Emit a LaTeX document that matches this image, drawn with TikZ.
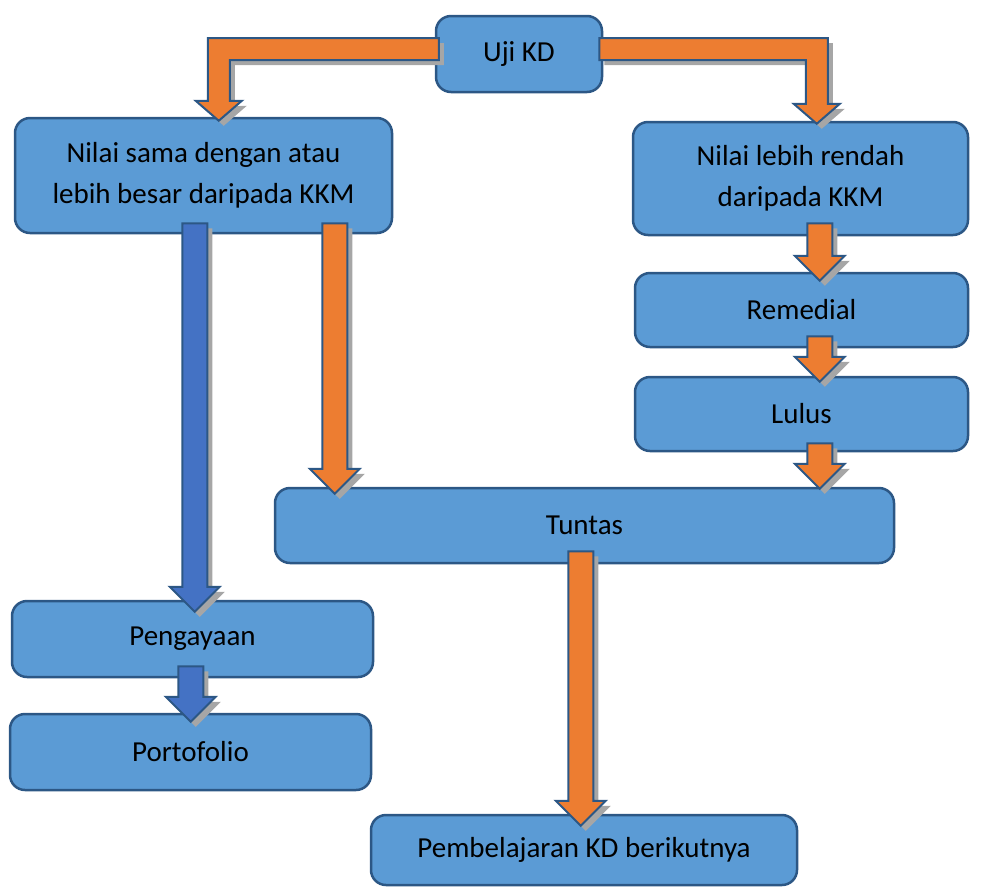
\documentclass[tikz,border=0pt]{standalone}
\usepackage{fontspec}
\setmainfont{Carlito}
\usetikzlibrary{calc}

\definecolor{boxblue}{HTML}{5B9BD5}
\definecolor{boxedge}{HTML}{2C5785}
\definecolor{arroworange}{HTML}{ED7D31}
\definecolor{arrowblue}{HTML}{4472C4}
\definecolor{shadowgray}{HTML}{A6A6A6}

\tikzset{
  box/.style={draw=boxedge, fill=boxblue, line width=2.5pt, rounded corners=15pt,
    align=center, inner sep=0pt, font=\fontsize{29}{41}\selectfont},
  blockdown/.style={to path={let \p1=(\tikztostart), \p2=(\tikztotarget) in
    ({\x1-12.5pt},\y1) -- ({\x1-12.5pt},{\y2+25pt}) -- ({\x1-25pt},{\y2+25pt}) -- (\x1,\y2)
    -- ({\x1+25pt},{\y2+25pt}) -- ({\x1+12.5pt},{\y2+25pt}) -- ({\x1+12.5pt},\y1) -- cycle}},
  blockturn/.style={to path={let \p1=(\tikztostart), \p2=(\tikztotarget) in
    (\x1,{\y1+11pt}) -- ({\x2-(#1)},{\y1+11pt}) -- ({\x2-(#1)},{\y2+20pt})
    -- ({\x2-2.1*(#1)},{\y2+20pt}) -- (\x2,\y2) -- ({\x2+2.1*(#1)},{\y2+20pt})
    -- ({\x2+(#1)},{\y2+20pt}) -- ({\x2+(#1)},{\y1-11pt}) -- (\x1,{\y1-11pt}) -- cycle}}
}

% block arrow with its shadow: #1 shape style, #2 fill, #3 from, #4 to
\newcommand\blockflow[4]{%
  \path[#1, fill=shadowgray, transform canvas={shift={(5pt,-5pt)}}] #3 to #4;
  \draw[#1, fill=#2, draw=boxedge, line width=2pt] #3 to #4;}

\begin{document}
\begin{tikzpicture}[x=1pt,y=-1pt]
  \useasboundingbox (0,0) rectangle (988,887);

  \node[box, minimum width=166pt, minimum height=76pt] (uji) at (519,54) {Uji KD};
  \node[box, minimum width=377pt, minimum height=115pt] (sama) at (203.5,175.5)
    {Nilai sama dengan atau\\lebih besar daripada KKM};
  \node[box, minimum width=335pt, minimum height=113pt] (rendah) at (800.5,178.5)
    {Nilai lebih rendah\\daripada KKM};
  \node[box, minimum width=333pt, minimum height=74pt] (remedial) at (801.5,310) {Remedial};
  \node[box, minimum width=333pt, minimum height=74pt] (lulus) at (801.5,414) {Lulus};
  \node[box, minimum width=619pt, minimum height=75pt] (tuntas) at (584.5,525.5) {Tuntas};
  \node[box, minimum width=361pt, minimum height=76pt] (peng) at (192.5,639) {Pengayaan};
  \node[box, minimum width=361pt, minimum height=76pt] (porto) at (190.5,752) {Portofolio};
  \node[box, minimum width=426pt, minimum height=70pt] (pemb) at (584,850) {Pembelajaran KD berikutnya};

  \blockflow{blockturn=11pt}{arroworange}{([xshift=4pt,yshift=5pt]uji.west)}{([xshift=205pt,yshift=-4pt]sama.north west)}
  \blockflow{blockturn=-11pt}{arroworange}{([xshift=-4pt,yshift=5pt]uji.east)}{([xshift=185pt,yshift=-3pt]rendah.north west)}
  \blockflow{blockdown}{arrowblue}{([xshift=181pt,yshift=11pt]sama.south west)}{([xshift=184pt,yshift=-12pt]peng.north west)}
  \blockflow{blockdown}{arroworange}{([xshift=321pt,yshift=11pt]sama.south west)}{([xshift=61pt,yshift=-7pt]tuntas.north west)}
  \blockflow{blockdown}{arrowblue}{([xshift=180pt,yshift=12pt]peng.south west)}{([xshift=182pt,yshift=-9pt]porto.north west)}
  \blockflow{blockdown}{arroworange}{([xshift=188pt,yshift=13pt]rendah.south west)}{([xshift=186pt,yshift=-9pt]remedial.north west)}
  \blockflow{blockdown}{arroworange}{([xshift=186pt,yshift=12pt]remedial.south west)}{([xshift=186pt,yshift=-6pt]lulus.north west)}
  \blockflow{blockdown}{arroworange}{([xshift=186pt,yshift=9pt]lulus.south west)}{([xshift=546pt,yshift=-2pt]tuntas.north west)}
  \blockflow{blockdown}{arroworange}{([xshift=307pt,yshift=13pt]tuntas.south west)}{([xshift=211pt,yshift=-12pt]pemb.north west)}
\end{tikzpicture}
\end{document}
